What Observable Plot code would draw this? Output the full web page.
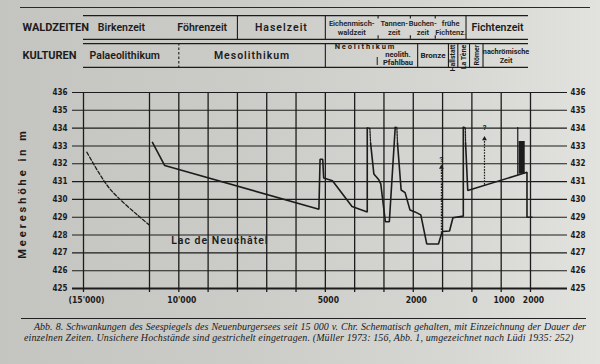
<!DOCTYPE html>
<html><head><meta charset="utf-8">
<script src="https://cdn.jsdelivr.net/npm/d3@7"></script>
<script src="https://cdn.jsdelivr.net/npm/@observablehq/plot@0.6"></script>
<style>
html,body{margin:0;padding:0}
body{width:600px;height:364px;overflow:hidden;position:relative;
 background:linear-gradient(90deg,#c4c4c0 0%,#cbcbc7 40%,#d6d6d3 75%,#e2e2df 100%);color:#1c1c1c}
#pagerule{position:absolute;left:20px;top:7px;width:570px;border-top:1.3px solid #2a2a2a}
#head,#chart{position:absolute;left:0}
#head{top:0}#chart{top:80px}
#head svg,#chart svg{overflow:visible}
#cap{position:absolute;left:21px;top:318px;width:565px;border-top:1.5px solid #222;padding-top:3px;
 font-family:"Liberation Serif","DejaVu Serif",serif;font-style:italic;font-size:10px;line-height:10.8px;color:#1a1a1a}
#cap .l1{margin-left:3px;text-indent:10px;text-align:justify;text-align-last:justify;white-space:nowrap}
#cap .l2{margin-left:3px;white-space:nowrap;letter-spacing:0.12px}
</style></head>
<body>
<div id="pagerule"></div>
<div id="head"></div>
<div id="chart"></div>
<div id="cap"><div class="l1">Abb. 8. Schwankungen des Seespiegels des Neuenburgersees seit 15 000 v. Chr. Schematisch gehalten, mit Einzeichnung der Dauer der</div><div class="l2">einzelnen Zeiten. Unsichere Hochstände sind gestrichelt eingetragen. (Müller 1973: 156, Abb. 1, umgezeichnet nach Lüdi 1935: 252)</div></div>
<script>
// ---------- data ----------
const levelTicks = [425, 426, 427, 428, 429, 430, 431, 432, 433, 434, 435, 436];
const yearTicks = [-15000, -11000, -10000, -9000, -8000, -7000, -6000, -5000, -4000, -3000, -2000, -1000, 0, 1000, 2000];
const yearLabels = ["(15'000)", "", "10'000", "", "", "", "", "5000", "", "", "2000", "", "0", "1000", "2000"];

// late-glacial lake level (uncertain, dashed)
const earlyYear = [-14800, -13800, -12900, -11700, -11000];
const earlyLevel = [432.65, 431.1, 430.1, 429.1, 428.55];

// main lake level curve (solid pieces)
const mainYear = [-10900, -10480, -5220, -5180, -5090, -5057, -4757, -4090, -3570, -3570,
  -3456, -3345, -3176, -3109, -2952, -2817, -2616,
  -2538, -2414, -2279, -2111, -1943, -1743, -1540, -1140, -1030, -1000, -763, -647, -293, -293,
  -215, -141, 1880, 1880, 2050];
const mainLevel = [433.2, 431.9, 429.45, 432.25, 432.25, 431.2, 431.05, 429.6, 429.3, 434.0,
  433.15, 431.43, 431.1, 430.87, 428.75, 428.75, 434.04,
  433.16, 430.53, 430.38, 429.4, 429.3, 429.13, 427.5, 427.5, 428.1, 428.2, 428.23, 428.97, 429.06, 434.04,
  433.16, 430.5, 431.52, 429.0, 429.0];
const mainPiece = ["a","a","a","a","a","a","a","a","a","a",
  "b","b","b","b","b","b","b",
  "c","c","c","c","c","c","c","c","c","c","c","c","c","c",
  "d","d","d","d","d"];

// uncertain high stands at the peaks (dashed)
const peakYear = [-3570, -3480, -3456, -2616, -2560, -2538, -293, -225, -215];
const peakLevel = [434.0, 434.0, 433.15, 434.04, 434.04, 433.16, 434.04, 434.04, 433.16];
const peakPiece = ["a","a","a","b","b","b","c","c","c"];

// uncertain high stands marked with "?"
const doubtYear = [-1040, 430];
const doubtLow = [428.1, 430.8];
const doubtHigh = [431.8, 433.4];
const doubtMark = [432.25, 434.05];

// 16th–19th century high stands
const spikeYear = [1565];
const spikeLow = [431.36];
const spikeHigh = [434.04];
const barStart = [1610];
const barEnd = [1820];
const barLow = [431.42];
const barHigh = [433.25];

const lakeName = ["Lac de Neuchâtel"];
const lakeYear = [-8600];
const lakeLevel = [427.7];
const yTitle = ["Meereshöhe in m"];

// header table
const rows = ["WALDZEITEN", "KULTUREN"];
const forestNames = ["Birkenzeit", "Föhrenzeit", "Haselzeit", "Eichenmisch-\nwaldzeit", "Tannen-\nzeit", "Buchen-\nzeit", "frühe\nFichtenz.", "Fichtenzeit"];
const forestStart = [-15000, -10400, -8000, -5000, -3200, -2100, -1250, -200];
const forestEnd = [-10400, -8000, -5000, -3200, -2100, -1250, -200, 1950];
const forestBounds = [-8000, -5000, -200];
const forestSoftBounds = [-3200, -2100, -1250];

const cultureNames = ["Palaeolithikum", "Mesolithikum", "Bronze", "nachrömische\nZeit"];
const cultureStart = [-15000, -10000, -1850, 380];
const cultureEnd = [-10000, -5000, -800, 1950];
const cultureBounds = [-5000, -1850, -800, -480, -80, 380];
const cultureSoftBounds = [-10000];
const narrowNames = ["Hallstatt", "La Tène", "Römer"];
const narrowStart = [-800, -480, -80];
const narrowEnd = [-480, -80, 380];
const neoName = ["N e o l i t h i k u m"];
const neoYear = [-3664];
const pfahlName = ["neolith.\nPfahlbau"];
const pfahlYear = [-2521];
const pfahlEdge = [-3230];

// ---------- drawing ----------
const ink = "#1c1c1c";
const F = "Roboto, 'Liberation Sans', Arial, sans-serif";
const FN = "'Liberation Sans Narrow', 'DejaVu Sans Condensed', 'Roboto Condensed', 'Liberation Sans', sans-serif";
const xScale = {type: "linear", domain: [-15000, -11000, 2000], range: [83, 149, 530], axis: null};
const mid = (s, e) => (d, i) => (s[i] + e[i]) / 2;
const forestMid = d => { const i = forestNames.indexOf(d); return (forestStart[i] + forestEnd[i]) / 2; };

const half = 11.87;
const head = Plot.plot({
  width: 600, height: 80, marginLeft: 83, marginRight: 70, marginTop: 15, marginBottom: 13,
  style: {background: "transparent", fontFamily: F, color: ink},
  x: xScale,
  y: {type: "band", domain: rows, paddingInner: 0.16, paddingOuter: 0, axis: null},
  marks: [
    Plot.ruleY(rows, {y: d => d, dy: -half, stroke: ink, strokeWidth: 1.2, insetRight: 2}),
    Plot.ruleY(rows, {y: d => d, dy: half, stroke: ink, strokeWidth: 1.2, insetRight: 2}),
    Plot.text(rows, {y: d => d, text: d => d, frameAnchor: "left", textAnchor: "start", dx: -61, fontSize: 11, fontWeight: "bold", fill: ink}),
    Plot.ruleX(forestBounds, {x: d => d, y1: () => "WALDZEITEN", y2: () => "WALDZEITEN", stroke: ink, strokeWidth: 1.1}),
    Plot.ruleX(forestSoftBounds, {x: d => d, y1: () => "WALDZEITEN", y2: () => "WALDZEITEN", stroke: ink, strokeWidth: 1.1, strokeDasharray: "3.5,16.7"}),
    Plot.text(forestNames.filter(d => !d.includes("\n")), {x: forestMid, y: () => "WALDZEITEN", text: d => d, fontSize: 10.5, fontWeight: 600, fill: ink}),
    Plot.text(forestNames.filter(d => d.includes("\n")), {x: forestMid, y: () => "WALDZEITEN", text: d => d, fontSize: 7.5, fontWeight: 600, lineHeight: 1.15, fill: ink}),
    Plot.ruleX(cultureBounds, {x: d => d, y1: () => "KULTUREN", y2: () => "KULTUREN", stroke: ink, strokeWidth: 1.1}),
    Plot.ruleX(cultureSoftBounds, {x: d => d, y1: () => "KULTUREN", y2: () => "KULTUREN", stroke: ink, strokeWidth: 1.1, strokeDasharray: "2.5,2"}),
    Plot.ruleX(pfahlEdge, {x: d => d, y1: () => "KULTUREN", y2: () => "KULTUREN", insetTop: 14, insetBottom: 2, stroke: ink, strokeWidth: 1}),
    Plot.text(cultureNames.slice(0, 2), {x: mid(cultureStart, cultureEnd), y: () => "KULTUREN", text: d => d, fontSize: 10.5, fontWeight: 600, fill: ink}),
    Plot.text(cultureNames.slice(2, 3), {x: () => (cultureStart[2] + cultureEnd[2]) / 2, y: () => "KULTUREN", text: d => d, fontSize: 8, fontWeight: "bold", fill: ink}),
    Plot.text(cultureNames.slice(3), {x: () => (cultureStart[3] + cultureEnd[3]) / 2, y: () => "KULTUREN", text: d => d, fontSize: 7.3, fontWeight: "bold", lineHeight: 1.3, fill: ink}),
    Plot.text(narrowNames, {x: mid(narrowStart, narrowEnd), y: () => "KULTUREN", text: d => d, rotate: -90, textAnchor: "end", dy: -half + 1, fontSize: 7, fontWeight: "bold", fill: ink}),
    Plot.text(neoName, {x: (d, i) => neoYear[i], y: () => "KULTUREN", text: d => d, dy: -9, fontSize: 7.5, fontWeight: "bold", fill: ink}),
    Plot.text(pfahlName, {x: (d, i) => pfahlYear[i], y: () => "KULTUREN", text: d => d, dy: 3, fontSize: 7.5, fontWeight: "bold", lineHeight: 1.1, fill: ink})
  ]
});
document.getElementById("head").append(head);

const chart = Plot.plot({
  width: 600, height: 238, marginTop: 12, marginBottom: 30, marginLeft: 83, marginRight: 70,
  style: {background: "transparent", fontFamily: F, color: ink},
  x: xScale,
  y: {domain: [425, 436], axis: null},
  marks: [
    Plot.ruleY(levelTicks, {y: d => d, insetLeft: -11, insetRight: -37, stroke: ink, strokeWidth: 1.1}),
    Plot.ruleY([levelTicks[0]], {y: d => d, insetLeft: -11, insetRight: -37, stroke: ink, strokeWidth: 2}),
    Plot.ruleX(yearTicks, {x: d => d, insetBottom: -4, stroke: ink, strokeWidth: 1.3}),
    Plot.text(levelTicks, {y: d => d, text: d => String(d), frameAnchor: "left", textAnchor: "end", dx: -16, fontFamily: FN, fontSize: 8, fontWeight: "bold", fill: ink}),
    Plot.text(levelTicks, {y: d => d, text: d => String(d), frameAnchor: "right", textAnchor: "start", dx: 40, fontFamily: FN, fontSize: 8, fontWeight: "bold", fill: ink}),
    Plot.text(yearTicks, {x: d => d, text: (d, i) => yearLabels[i], frameAnchor: "bottom", dy: 14, dx: 3, fontFamily: FN, fontSize: 8.5, fontWeight: "bold", fill: ink}),
    Plot.text(yTitle, {text: d => d, frameAnchor: "left", textAnchor: "middle", dx: -61, dy: 3, rotate: -90, fontSize: 11, fontWeight: "bold", fill: ink}),
    Plot.text(lakeName, {x: (d, i) => lakeYear[i], y: (d, i) => lakeLevel[i], text: d => d, fontSize: 10.5, fontWeight: 600, fill: ink}),
    Plot.line(earlyYear, {x: d => d, y: (d, i) => earlyLevel[i], curve: "natural", stroke: ink, strokeWidth: 1.3, strokeDasharray: "3.5,2"}),
    Plot.line(mainYear, {x: d => d, y: (d, i) => mainLevel[i], z: (d, i) => mainPiece[i], stroke: ink, strokeWidth: 1.6, strokeLinejoin: "miter"}),
    Plot.line(peakYear, {x: d => d, y: (d, i) => peakLevel[i], z: (d, i) => peakPiece[i], stroke: ink, strokeWidth: 1.3, strokeDasharray: "1.6,1.2"}),
    Plot.ruleX(doubtYear, {x: d => d, y1: (d, i) => doubtLow[i], y2: (d, i) => doubtHigh[i], stroke: ink, strokeWidth: 1.2, strokeDasharray: "1.6,1.2"}),
    Plot.dot(doubtYear, {x: d => d, y: (d, i) => doubtHigh[i], symbol: "triangle", r: 1.8, fill: ink, stroke: "none"}),
    Plot.text(doubtYear, {x: d => d, y: (d, i) => doubtMark[i], text: () => "?", fontSize: 7.5, fontWeight: "bold", fill: ink}),
    Plot.ruleX(spikeYear, {x: d => d, y1: (d, i) => spikeLow[i], y2: (d, i) => spikeHigh[i], stroke: ink, strokeWidth: 1.2}),
    Plot.rect(barStart, {x1: d => d, x2: (d, i) => barEnd[i], y1: (d, i) => barLow[i], y2: (d, i) => barHigh[i], fill: ink})
  ]
});
document.getElementById("chart").append(chart);

// letter spacing of the spaced-out labels
d3.select(chart).selectAll("text").filter(function () { return this.textContent === yTitle[0]; }).attr("letter-spacing", "3px");
d3.select(chart).selectAll("text").filter(function () { return this.textContent === lakeName[0]; }).attr("letter-spacing", "1px");
d3.select(head).selectAll("text").filter(function () { return this.textContent === "Mesolithikum" || this.textContent === "Haselzeit"; }).attr("letter-spacing", "1px");
</script>
</body></html>
